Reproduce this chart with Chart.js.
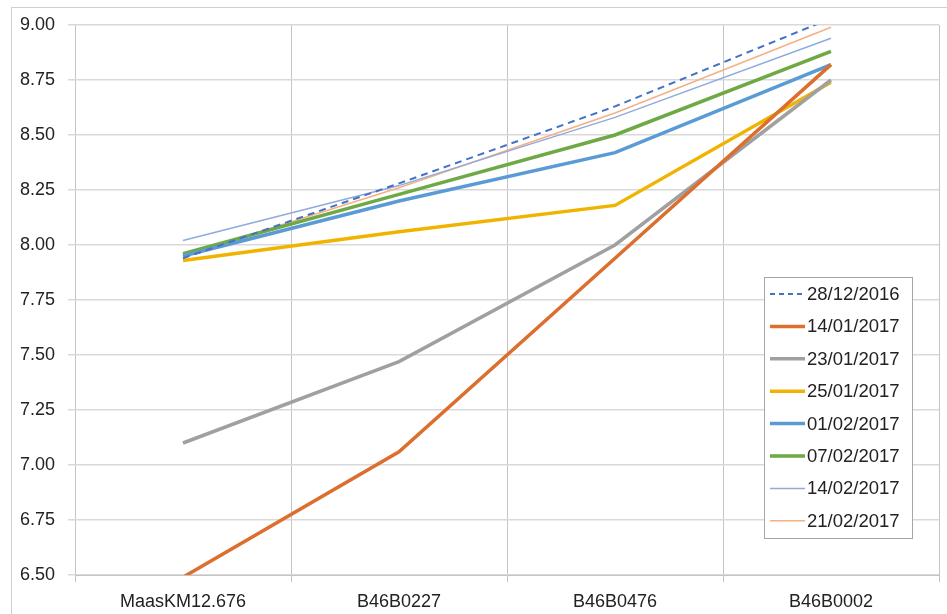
<!DOCTYPE html>
<html>
<head>
<meta charset="utf-8">
<script src="https://cdn.jsdelivr.net/npm/chart.js@4/dist/chart.umd.min.js"></script>
<style>
  html, body { margin: 0; padding: 0; background: #fff; }
  #wrap { width: 947px; height: 614px; }
</style>
</head>
<body>
<div id="wrap"><canvas id="phChart" width="947" height="614"></canvas></div>
<script>
  // sampling points along the river
  var stations = ['MaasKM12.676', 'B46B0227', 'B46B0476', 'B46B0002'];

  // pH per sampling date
  var d281216 = [7.94, 8.28, 8.63, 9.03];
  var d140117 = [6.49, 7.06, 7.94, 8.82];
  var d230117 = [7.10, 7.47, 8.00, 8.75];
  var d250117 = [7.93, 8.06, 8.18, 8.74];
  var d010217 = [7.95, 8.20, 8.42, 8.82];
  var d070217 = [7.96, 8.23, 8.50, 8.88];
  var d140217 = [8.02, 8.27, 8.58, 8.94];
  var d210217 = [7.95, 8.26, 8.60, 8.99];

  var yTicks = [6.5, 6.75, 7, 7.25, 7.5, 7.75, 8, 8.25, 8.5, 8.75, 9];

  var font = "'Liberation Sans', Arial, sans-serif";

  function series(label, data, color, width, dash) {
    return {
      label: label,
      data: data,
      borderColor: color,
      backgroundColor: color,
      borderWidth: width,
      borderDash: dash || [],
      pointRadius: 0,
      tension: 0,
      clip: 0
    };
  }

  var datasets = [
    series('28/12/2016', d281216, '#4472C4', 2, [7, 5]),
    series('14/01/2017', d140117, '#DC6E2E', 3.5),
    series('23/01/2017', d230117, '#A0A0A0', 3.5),
    series('25/01/2017', d250117, '#F0B400', 3.5),
    series('01/02/2017', d010217, '#5B9BD5', 3.5),
    series('07/02/2017', d070217, '#6EA946', 3.5),
    series('14/02/2017', d140217, '#8FAADC', 1.5),
    series('21/02/2017', d210217, '#F4B183', 1.5)
  ];

  // outer frame of the chart object
  var frame = {
    id: 'frame',
    beforeDraw: function (chart) {
      var c = chart.ctx;
      c.save();
      c.strokeStyle = '#d0d0d0';
      c.lineWidth = 1;
      c.strokeRect(11.5, 7.5, 1000, 1000);
      c.restore();
    }
  };

  // boxed legend sitting inside the plot area
  var boxLegend = {
    id: 'boxLegend',
    afterDatasetsDraw: function (chart) {
      var c = chart.ctx;
      var x0 = 764, y0 = 277, w = 148, h = 261, row = 32.4;
      c.save();
      c.fillStyle = '#fff';
      c.fillRect(x0, y0, w, h);
      c.strokeStyle = '#a6a6a6';
      c.lineWidth = 1;
      c.strokeRect(x0 + 0.5, y0 + 0.5, w, h);
      c.font = '18.5px ' + font;
      c.textBaseline = 'middle';
      c.textAlign = 'left';
      chart.data.datasets.forEach(function (ds, i) {
        var y = y0 + 17 + i * row;
        c.strokeStyle = ds.borderColor;
        c.lineWidth = ds.borderWidth;
        c.setLineDash(ds.borderDash.length ? [5, 4] : []);
        c.beginPath();
        c.moveTo(770, y);
        c.lineTo(805, y);
        c.stroke();
        c.setLineDash([]);
        c.fillStyle = '#222';
        c.fillText(ds.label, 807, y + 1);
      });
      c.restore();
    }
  };

  new Chart(document.getElementById('phChart'), {
    type: 'line',
    data: { labels: stations, datasets: datasets },
    options: {
      responsive: false,
      animation: false,
      layout: { padding: { left: 0, right: 8, top: 25, bottom: 0 } },
      plugins: { legend: { display: false }, tooltip: { enabled: false } },
      scales: {
        x: {
          type: 'category',
          offset: true,
          grid: { offset: true, color: '#c4c4c4', lineWidth: 1, tickLength: 7, drawTicks: true },
          border: { color: '#c4c4c4' },
          ticks: { color: '#222', font: { family: font, size: 18 }, padding: 9, maxRotation: 0 },
          afterFit: function (s) { s.height = 39; }
        },
        y: {
          min: 6.5,
          max: 9,
          afterBuildTicks: function (s) { s.ticks = yTicks.map(function (v) { return { value: v }; }); },
          grid: { color: '#d9d9d9', lineWidth: 1.5, tickLength: 7 },
          border: { display: false },
          ticks: {
            color: '#222',
            font: { family: font, size: 18 },
            padding: 13,
            callback: function (v) { return Number(v).toFixed(2); }
          },
          afterFit: function (s) { s.width = 75; }
        }
      }
    },
    plugins: [frame, boxLegend]
  });
</script>
</body>
</html>
